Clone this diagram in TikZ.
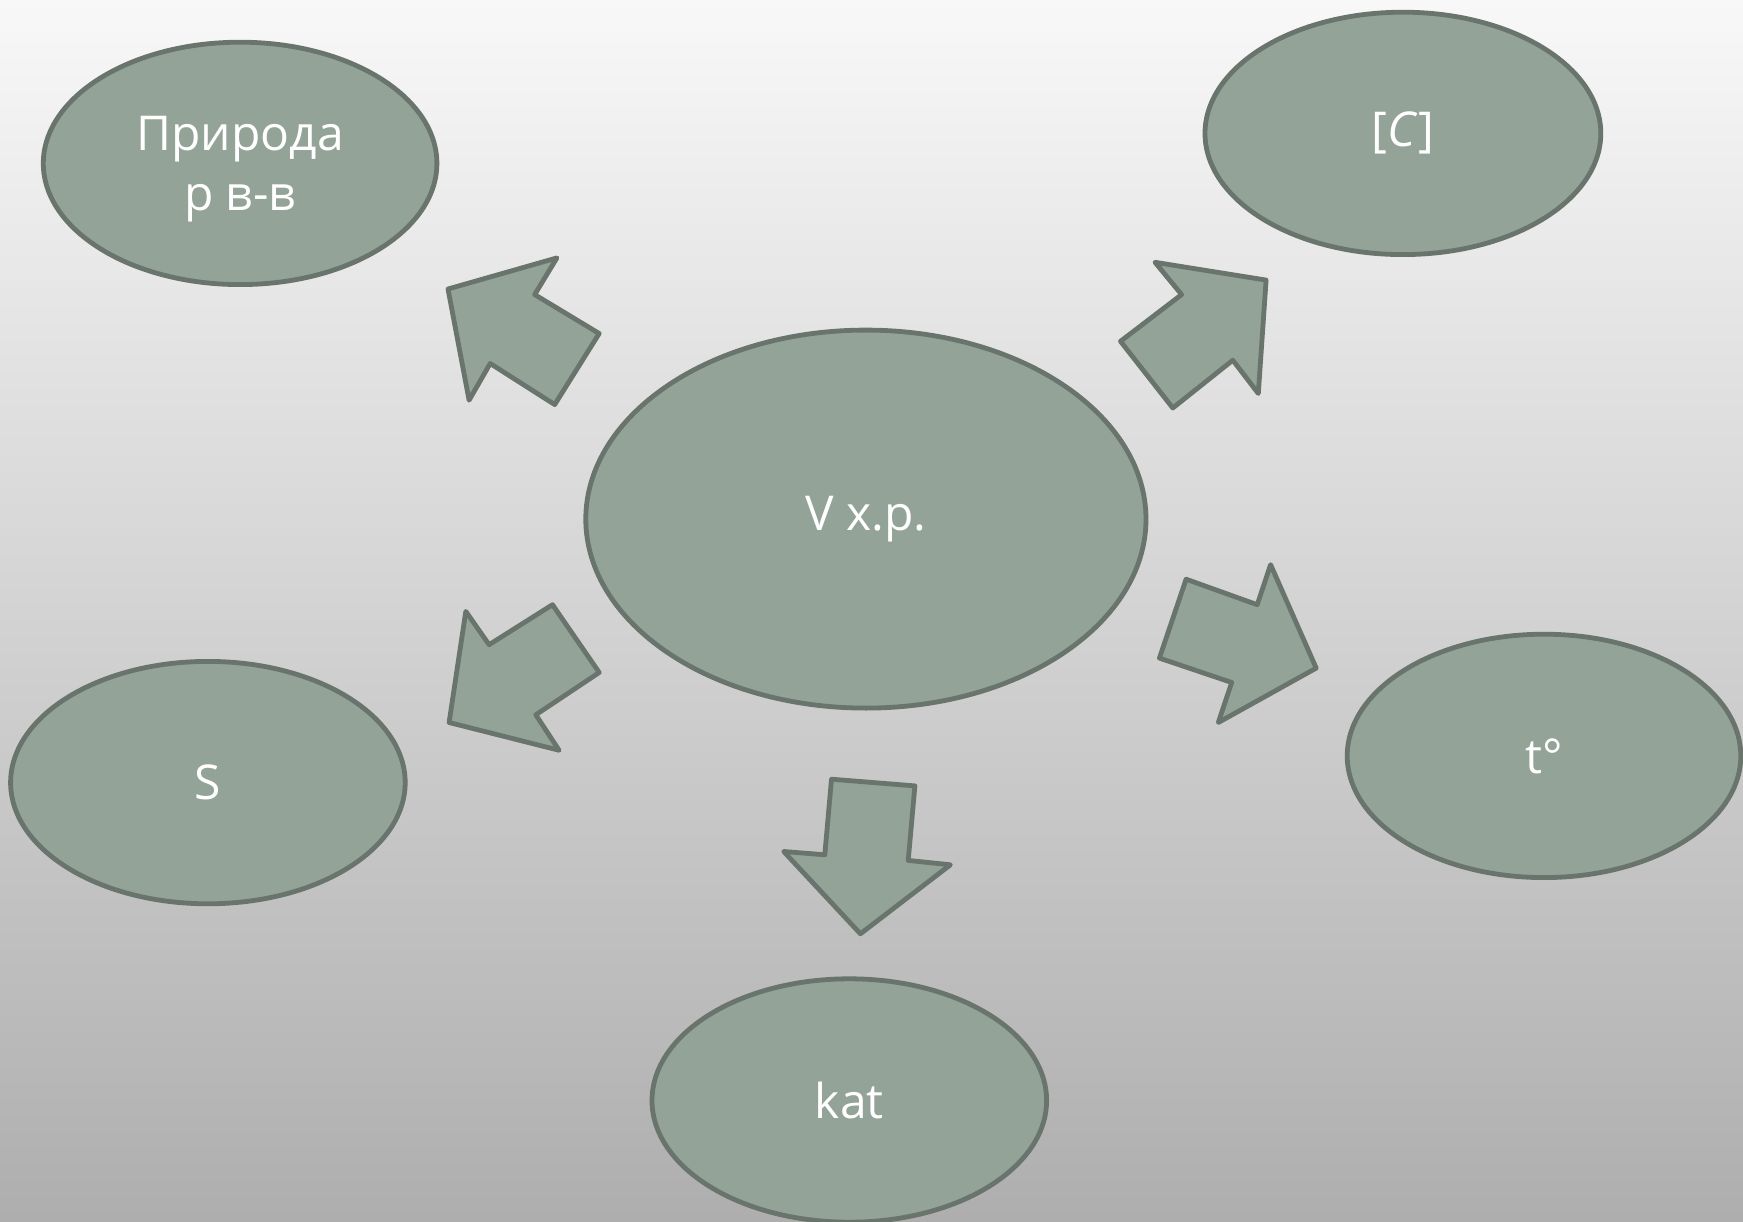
\documentclass[tikz,border=0pt]{standalone}
\usepackage{fontspec}
\setmainfont{Open Sans}
\usetikzlibrary{shapes.geometric}
\definecolor{bgtop}{HTML}{F8F8F8}
\definecolor{bgbot}{HTML}{AEAEAE}
\definecolor{fillg}{HTML}{93A398}
\definecolor{edgeg}{HTML}{68746C}
\tikzset{
  bubble/.style={ellipse, draw=edgeg, fill=fillg, line width=4.8pt, text=white,
     font=\fontsize{48}{60}\selectfont, align=center, inner sep=0pt},
  blockarrow/.style={draw=edgeg, fill=fillg, line width=4.8pt, line join=round}
}
\begin{document}
\begin{tikzpicture}[x=1pt,y=-1pt]
\useasboundingbox (0,0) rectangle (1743,1222);
\shade[top color=bgtop, bottom color=bgbot] (0,0) rectangle (1743,1222);
% ellipses
\node[bubble, minimum width=393.6pt, minimum height=242.4pt] (nat) at (240.1,163.4) {};
\node[white, font=\fontsize{48}{60}\selectfont, align=center] (natlabel) at (240.1,169) {Природа\\р в-в};
\node[bubble, minimum width=395.8pt, minimum height=242.4pt] (conc) at (1402.9,133.4) {[\textit{C}]};
\node[bubble, minimum width=560.2pt, minimum height=378pt] (v) at (865.9,519.1) {V х.р.};
\node[bubble, minimum width=394.6pt, minimum height=242.4pt] (s) at (207.9,782.6) {S};
\node[bubble, minimum width=393.6pt, minimum height=243.4pt] (t) at (1544,755.9) {t°};
\node[bubble, minimum width=394.6pt, minimum height=243.4pt] (kat) at (849.3,1100.5) {kat};
% block arrows
\draw[blockarrow] (448.0,289.0) -- (556.9,257.9) -- (534.7,294.6) -- (599.2,333.5) -- (554.7,404.6) -- (490.2,363.5) -- (469.1,400.2) -- cycle;
\draw[blockarrow] (1155.0,262.3) -- (1266.1,280.1) -- (1258.3,393.5) -- (1232.8,360.2) -- (1172.8,408.0) -- (1120.5,341.3) -- (1181.6,294.6) -- cycle;
\draw[blockarrow] (1186.1,579.2) -- (1257.2,604.7) -- (1270.6,564.7) -- (1316.2,668.1) -- (1218.3,722.5) -- (1231.7,682.5) -- (1159.4,658.1) -- cycle;
\draw[blockarrow] (831.5,779.2) -- (914.9,785.9) -- (908.2,860.4) -- (950.4,864.8) -- (860.4,933.8) -- (783.7,851.5) -- (824.8,854.8) -- cycle;
\draw[blockarrow] (552.5,604.7) -- (599.2,672.5) -- (535.8,714.8) -- (559.1,750.3) -- (449.1,722.5) -- (465.8,611.4) -- (489.1,644.7) -- cycle;
\end{tikzpicture}
\end{document}
